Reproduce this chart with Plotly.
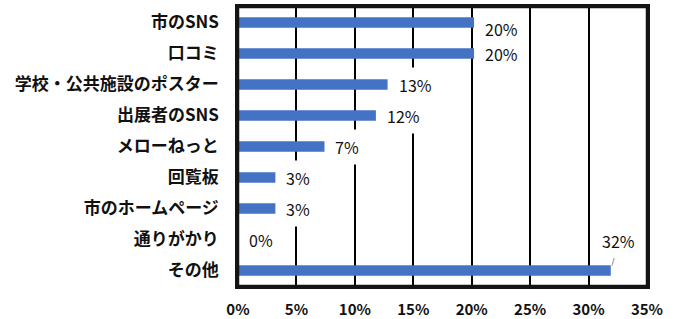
import plotly.graph_objects as go

categories = ["市のSNS", "口コミ", "学校・公共施設のポスター", "出展者のSNS", "メローねっと",
              "回覧板", "市のホームページ", "通りがかり", "その他"]
values = [0.202, 0.202, 0.128, 0.118, 0.074, 0.032, 0.032, 0.0, 0.319]
tick_vals = [0, 0.05, 0.10, 0.15, 0.20, 0.25, 0.30, 0.35]
tick_text = ["0%", "5%", "10%", "15%", "20%", "25%", "30%", "35%"]

FONT = "Noto Sans CJK JP"
BLUE = "#4472C4"
TXT = "#111111"
FRAME = "#141414"

fig = go.Figure()
fig.add_trace(go.Bar(
    x=values, y=categories, orientation="h",
    marker=dict(color=BLUE, line=dict(width=0)),
    hoverinfo="skip",
))

annotations = []
for i, (c, v) in enumerate(zip(categories, values)):
    label = f"{round(v * 100):d}%"
    if c == "その他":
        annotations.append(dict(
            x=v, y=c, xref="x", yref="y", text=label,
            showarrow=True, arrowhead=0, arrowwidth=1.2, arrowcolor="#A6A6A6",
            ax=8, ay=-30, standoff=5,
            font=dict(family=FONT, size=16, color=TXT),
            bgcolor="white", borderpad=5,
        ))
    else:
        annotations.append(dict(
            x=v, y=c, xref="x", yref="y", text=label,
            showarrow=False, xanchor="left", yanchor="middle",
            xshift=5, yshift=(-6 if i == 0 else 0),
            font=dict(family=FONT, size=16, color=TXT),
            bgcolor="white", borderpad=5,
        ))

fig.update_layout(
    width=678, height=319,
    margin=dict(l=238, r=31, t=7, b=33, autoexpand=False),
    paper_bgcolor="white", plot_bgcolor="white",
    showlegend=False,
    bargap=0.66,
    annotations=annotations,
    font=dict(family=FONT, color=TXT),
    shapes=[dict(type="rect", xref="paper", yref="paper", x0=0, x1=1, y0=0, y1=1,
                 line=dict(color=FRAME, width=2.5), fillcolor="rgba(0,0,0,0)",
                 layer="above")],
    xaxis=dict(
        range=[0, 0.35], tickvals=tick_vals, ticktext=tick_text,
        showgrid=True, gridcolor="black", gridwidth=1.6,
        showline=True, linecolor=FRAME, linewidth=2.5, mirror="all",
        zeroline=False, ticks="outside", ticklen=8, tickcolor="rgba(0,0,0,0)",
        tickfont=dict(family=FONT, size=15, color=TXT, weight="bold"),
        fixedrange=True, automargin=False,
    ),
    yaxis=dict(
        type="category",
        categoryorder="array", categoryarray=categories,
        range=[len(categories) - 0.5, -0.5],
        showgrid=False, showline=True, linecolor=FRAME, linewidth=2.5, mirror="all",
        zeroline=False, ticks="outside", ticklen=13, tickcolor="rgba(0,0,0,0)",
        tickfont=dict(family=FONT, size=17, color=TXT, weight="bold"),
        fixedrange=True, automargin=False,
    ),
)

fig.write_html("out.html", config={"displayModeBar": False},
               post_script="document.body.style.margin='0';")
